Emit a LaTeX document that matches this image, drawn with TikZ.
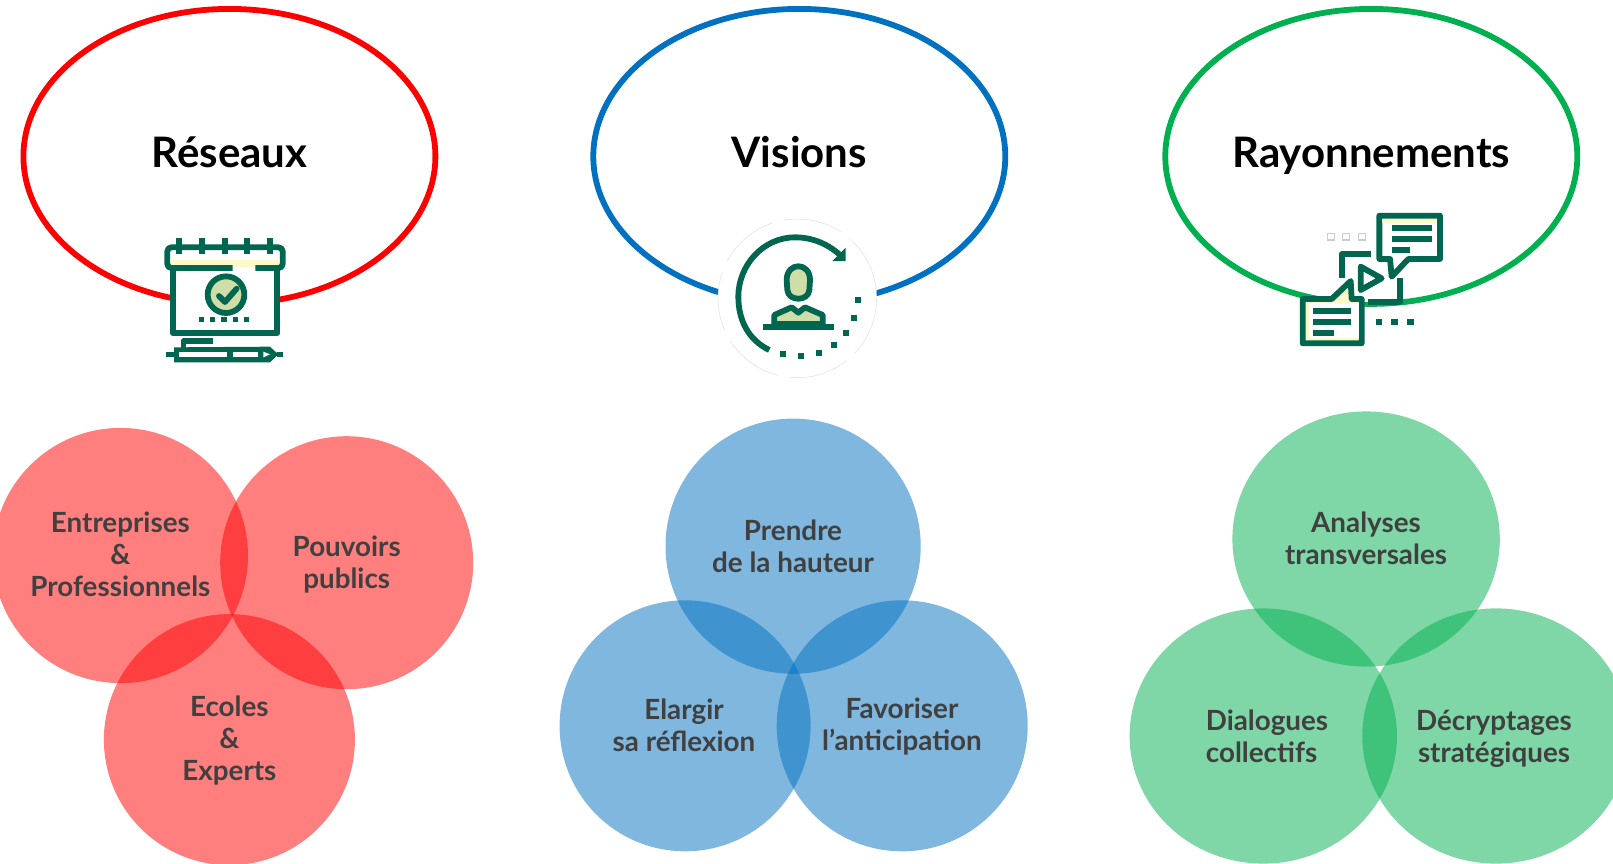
\documentclass[tikz,border=0pt]{standalone}
\usepackage{fontspec}
\setmainfont{Lato}
\usetikzlibrary{shapes.geometric}
\definecolor{iconG}{HTML}{00664F}
\definecolor{iconL}{HTML}{CFDDA8}
\definecolor{iconC}{HTML}{FFF8C8}
\definecolor{redE}{HTML}{FF0000}
\definecolor{blueE}{HTML}{0070C0}
\definecolor{greenE}{HTML}{00B050}
\definecolor{txt}{HTML}{404040}
\tikzset{
 titleoval/.style={ellipse,draw=#1,line width=2.9pt,minimum width=206pt,minimum height=147.5pt,inner sep=0pt},
 titletext/.style={font=\fontsize{21}{25}\selectfont\bfseries,text=black,inner sep=0pt,anchor=base},
 bubble/.style={circle,fill=#1,fill opacity=.5,minimum size=125.5pt,inner sep=0pt},
 gbubble/.style={ellipse,fill=greenE,fill opacity=.5,minimum width=133.7pt,minimum height=127.6pt,inner sep=0pt},
 btext/.style={font=\fontsize{13.9}{16}\selectfont\bfseries,text=txt,align=center,inner sep=0pt},
 ic/.style={draw=iconG,line width=2.9pt,line join=round},
 icthin/.style={draw=iconG,line width=2.6pt,line join=round},
 dot/.style={fill=iconG,draw=none},
}
\begin{document}
\begin{tikzpicture}[x=0.5pt,y=-0.5pt]
\useasboundingbox (0,0) rectangle (1613,863);
\fill[white] (0,0) rectangle (1613,863);
% ovals
\node[titleoval=redE] (ovalA) at (229.4,156.4) {};
\node[titleoval=blueE] (ovalB) at (799.3,156.4) {};
\node[titleoval=greenE] (ovalC) at (1371.3,156.4) {};
\node[titletext] (tA) at (229.4,167.5) {Réseaux};
\node[titletext] (tB) at (799.3,167.5) {Visions};
\node[titletext] (tC) at (1371.3,167.5) {Rayonnements};
% circles
\begin{scope}
\clip (0,0) rectangle (1613,863);
\node[bubble=redE,minimum size=127.6pt] (r1) at (120.4,555.5) {};
\node[bubble=redE,minimum size=126.5pt] (r2) at (346.7,562.7) {};
\node[bubble=redE] (r3) at (229.4,739.6) {};
\node[bubble=blueE,minimum size=127.6pt] (b1) at (793.1,546.2) {};
\node[bubble=blueE] (b2) at (685.1,725.8) {};
\node[bubble=blueE] (b3) at (902.2,725.8) {};
\node[gbubble] (g1) at (1366.1,539) {};
\node[gbubble] (g2) at (1263.3,736) {};
\node[gbubble] (g3) at (1496,736) {};
\end{scope}
\node[btext] at (120.4,554) {Entreprises\\\&\\Professionnels};
\node[btext] at (346.7,564.5) {Pouvoirs\\publics};
\node[btext] at (229.4,740.5) {Ecoles\\\&\\Experts};
\node[btext] at (793,546) {Prendre\\de la hauteur};
\node[btext] at (684,725) {Elargir\\sa réflexion};
\node[btext] at (902,727) {Favoriser\\l’anticipation};
\node[btext] at (1366,538) {Analyses\\transversales};
\node[btext,align=left] at (1267,736.5) {Dialogues\\collectifs};
\node[btext] at (1494,738.5) {Décryptages\\stratégiques};
% calendar icon
\begin{scope}[shift={(130,210)},x=0.16667pt,y=-0.16667pt]
\fill[white] (128,180) rectangle (442,370);
\fill[iconC] (122,150) rectangle (448,172);
\foreach \p in {148,216,284,352,420}{\draw[ic] (\p,83)--(\p,132);}
\draw[ic,rounded corners=2pt] (308,174)--(112,174)--(112,112)--(458,112)--(458,174)--(376,174);
\draw[ic] (128,180)--(128,370)--(442,370)--(442,180);
\draw[ic,fill=iconL] (288,254) circle (55);
\draw[ic,line cap=round] (267,258)--(285,276)--(320,236);
\foreach \p in {214,248,282,316,350}{\fill[dot] (\p-8,321) rectangle (\p+8,337);}
\draw[icthin] (160,415)--(160,393)--(250,393);
\fill[dot] (132,412)--(420,410)--(445,433)--(420,457)--(132,457)--cycle;
\fill[white] (148,425) rectangle (292,442);
\fill[white] (310,425) rectangle (385,442);
\fill[white] (400,425)--(420,433)--(400,442)--cycle;
\draw[icthin] (108,433)--(132,433) (440,433)--(458,433);
\end{scope}
% vision icon
\begin{scope}[shift={(680,200)},x=0.16667pt,y=-0.16667pt]
\draw[fill=white,draw=black!15,line width=.2pt,dash pattern=on 30pt off 6pt] (352,295) circle (238);
\draw[ic] (268,450) .. controls (205,420) and (175,360) .. (175,290) .. controls (175,195) and (250,112) .. (345,112) .. controls (395,112) and (440,130) .. (478,163);
\fill[dot] (497,143)--(497,183)--(457,183)--cycle;
\foreach \p/\q in {533/301,522/353,498/399,461/434,416/459,363/469,310/463}{\fill[dot] (\p-9,\q-9) rectangle (\p+9,\q+9);}
\draw[ic,fill=iconL] (283,372)--(283,345)--(335,322)--(355,338)--(375,322)--(428,345)--(428,372)--cycle;
\draw[ic,fill=iconL] (320,240) .. controls (320,185) and (390,185) .. (390,240) -- (388,270) .. controls (385,305) and (325,305) .. (322,270) -- cycle;
\draw[ic] (248,380)--(462,380);
\end{scope}
% dialog icon
\begin{scope}[shift={(1240,195)},x=0.16667pt,y=-0.16667pt]
\foreach \p in {273,318,366}{\draw[draw=black!20,fill=white,line width=.8pt] (\p-11,115) rectangle (\p+11,135);}
\fill[white] (300,178) rectangle (480,320);
\draw[ic] (392,178)--(305,178)--(305,250);
\draw[ic] (480,250)--(480,320)--(385,320);
\draw[ic] (362,215)--(425,250)--(362,285)--cycle;
\draw[ic,fill=white] (418,62)--(600,62)--(600,192)--(505,192)--(455,245)--(450,192)--(418,192)--cycle;
\fill[iconC] (427,72) rectangle (591,84);
\draw[ic] (455,98)--(575,98) (455,131)--(575,131) (455,165)--(510,165);
\draw[ic,fill=iconC] (188,312)--(275,312)--(332,258)--(335,312)--(365,312)--(365,445)--(188,445)--cycle;
\fill[white] (207,325) rectangle (356,428);
\draw[ic] (220,347)--(333,347) (220,380)--(333,380) (220,413)--(283,413);
\foreach \p in {417,463,511}{\fill[dot] (\p-10,371) rectangle (\p+10,389);}
\end{scope}
\end{tikzpicture}
\end{document}
